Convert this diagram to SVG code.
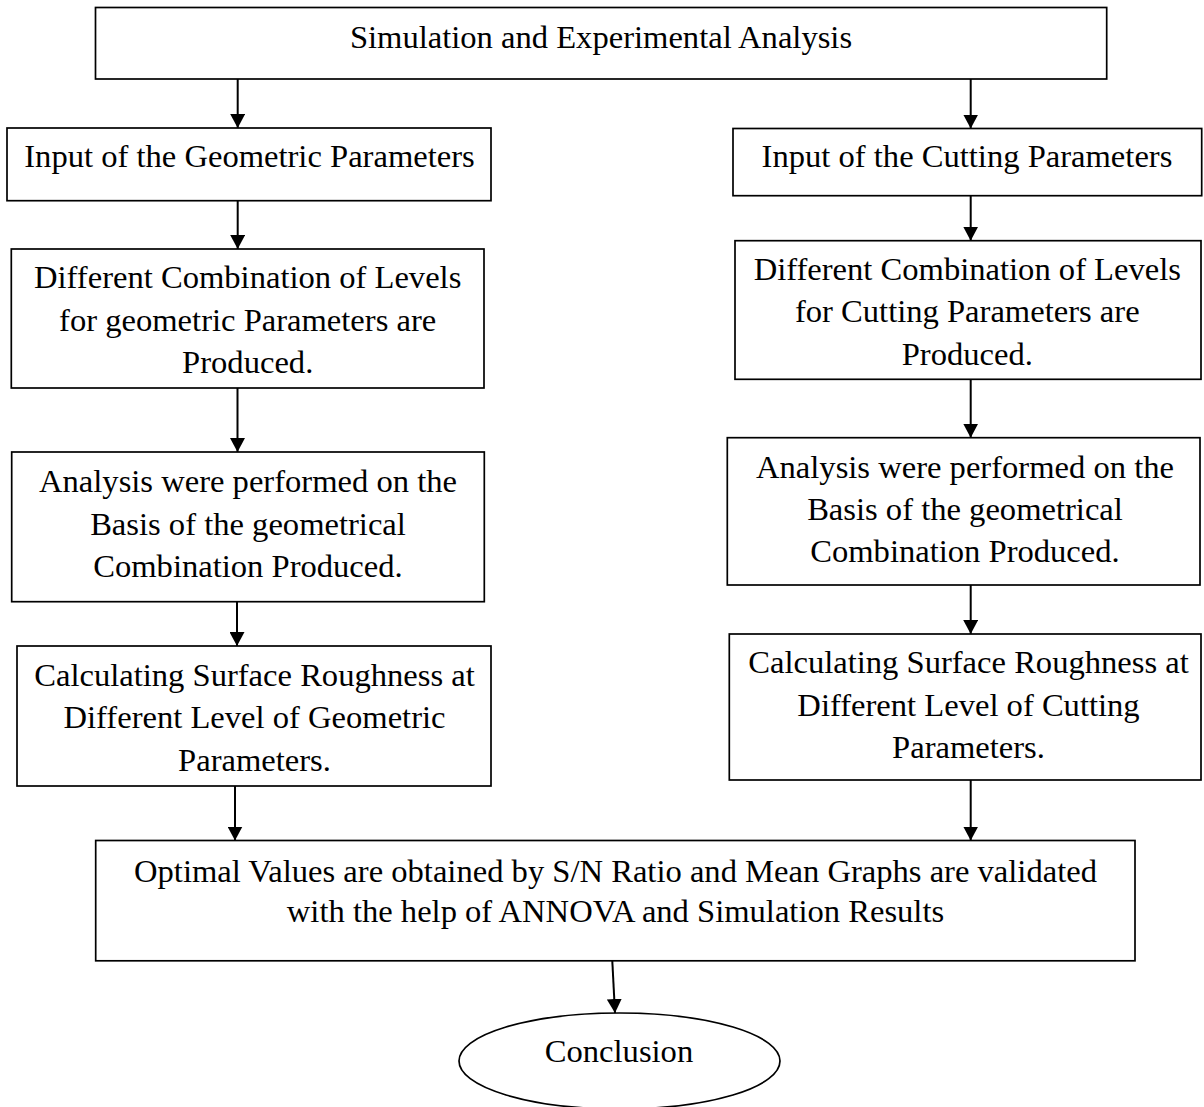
<svg xmlns="http://www.w3.org/2000/svg" width="1204" height="1107" viewBox="0 0 1204 1107">
  <style>
    .box { fill: #ffffff; stroke: #000000; stroke-width: 1.7; }
    .lbl { font-family: "Liberation Serif", "Times New Roman", serif; font-size: 32.6px; fill: #000000; text-anchor: middle; }
    .link { stroke: #000000; stroke-width: 2; fill: none; marker-end: url(#arrow); }
  </style>
  <defs>
    <marker id="arrow" markerUnits="userSpaceOnUse" markerWidth="15" markerHeight="15" refX="14" refY="7.5" orient="auto">
      <path d="M0,0 L14,7.5 L0,15 Z" fill="#000000"/>
    </marker>
  </defs>
  <rect width="1204" height="1107" fill="#ffffff"/>

  <g id="connectors">
    <line class="link" x1="237.7" y1="79" x2="237.7" y2="128"/>
    <line class="link" x1="970.7" y1="79" x2="970.7" y2="128.5"/>
    <line class="link" x1="237.7" y1="200.7" x2="237.7" y2="249"/>
    <line class="link" x1="970.7" y1="195.7" x2="970.7" y2="240.7"/>
    <line class="link" x1="237.5" y1="388" x2="237.5" y2="452"/>
    <line class="link" x1="970.7" y1="379.3" x2="970.7" y2="437.7"/>
    <line class="link" x1="237" y1="601.7" x2="237" y2="646"/>
    <line class="link" x1="970.7" y1="585" x2="970.7" y2="634"/>
    <line class="link" x1="235" y1="786" x2="235" y2="840.5"/>
    <line class="link" x1="970.7" y1="780" x2="970.7" y2="840.5"/>
    <line class="link" x1="612.3" y1="961" x2="615" y2="1013"/>
  </g>

  <g id="start">
    <rect class="box" x="95.5" y="7.5" width="1011.2" height="71.5"/>
    <text class="lbl" x="601" y="47.5">Simulation and Experimental Analysis</text>
  </g>

  <g id="input-geometric">
    <rect class="box" x="7" y="128" width="484" height="72.7"/>
    <text class="lbl" x="249.5" y="166.7">Input of the Geometric Parameters</text>
  </g>

  <g id="input-cutting">
    <rect class="box" x="733" y="128.5" width="468.7" height="67.2"/>
    <text class="lbl" x="967" y="166.7">Input of the Cutting Parameters</text>
  </g>

  <g id="levels-geometric">
    <rect class="box" x="11.3" y="249" width="472.7" height="139"/>
    <text class="lbl" x="247.7" y="288.3">Different Combination of Levels</text>
    <text class="lbl" x="247.7" y="331">for geometric Parameters are</text>
    <text class="lbl" x="247.7" y="373">Produced.</text>
  </g>

  <g id="levels-cutting">
    <rect class="box" x="735" y="240.7" width="466" height="138.6"/>
    <text class="lbl" x="967.3" y="280">Different Combination of Levels</text>
    <text class="lbl" x="967.3" y="321.7">for Cutting Parameters are</text>
    <text class="lbl" x="967.3" y="365">Produced.</text>
  </g>

  <g id="analysis-geometric">
    <rect class="box" x="11.7" y="452" width="472.6" height="149.7"/>
    <text class="lbl" x="248" y="491.7">Analysis were performed on the</text>
    <text class="lbl" x="248" y="535">Basis of the geometrical</text>
    <text class="lbl" x="248" y="576.7">Combination Produced.</text>
  </g>

  <g id="analysis-cutting">
    <rect class="box" x="727.3" y="437.7" width="472.7" height="147.3"/>
    <text class="lbl" x="965" y="478.3">Analysis were performed on the</text>
    <text class="lbl" x="965" y="520">Basis of the geometrical</text>
    <text class="lbl" x="965" y="561.7">Combination Produced.</text>
  </g>

  <g id="roughness-geometric">
    <rect class="box" x="17" y="646" width="474" height="140"/>
    <text class="lbl" x="254.5" y="686">Calculating Surface Roughness at</text>
    <text class="lbl" x="254.5" y="728">Different Level of Geometric</text>
    <text class="lbl" x="254.5" y="770.7">Parameters.</text>
  </g>

  <g id="roughness-cutting">
    <rect class="box" x="729.3" y="634" width="471.7" height="146"/>
    <text class="lbl" x="968.5" y="673.3">Calculating Surface Roughness at</text>
    <text class="lbl" x="968.5" y="715.7">Different Level of Cutting</text>
    <text class="lbl" x="968.5" y="758.3">Parameters.</text>
  </g>

  <g id="optimal">
    <rect class="box" x="95.7" y="840.5" width="1039.3" height="120.3"/>
    <text class="lbl" x="615.5" y="881.5">Optimal Values are obtained by S/N Ratio and Mean Graphs are validated</text>
    <text class="lbl" x="615.5" y="922">with the help of ANNOVA and Simulation Results</text>
  </g>

  <g id="conclusion">
    <ellipse class="box" cx="619.5" cy="1061" rx="160.5" ry="48"/>
    <text class="lbl" x="619" y="1062">Conclusion</text>
  </g>
</svg>
